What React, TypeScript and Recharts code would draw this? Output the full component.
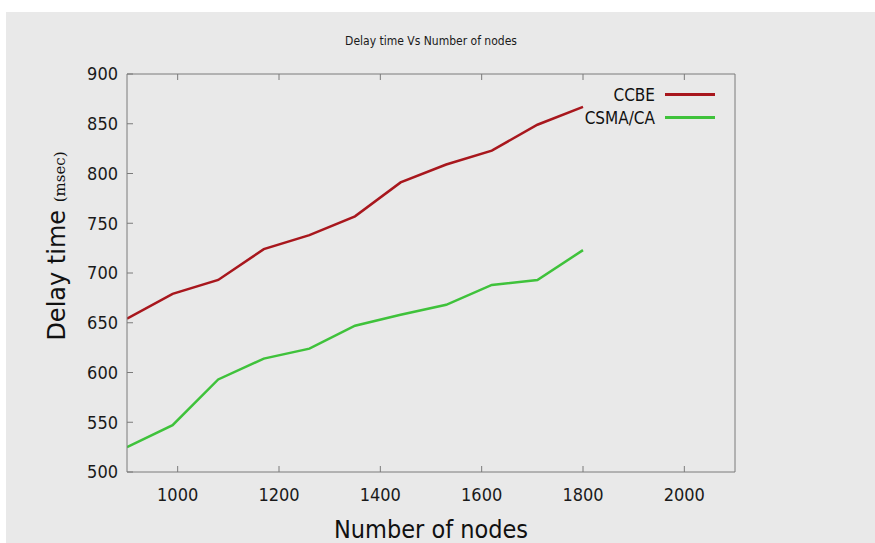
import React from 'react';
import { LineChart, Line, XAxis, YAxis, Legend } from 'recharts';

const nodes = [900, 990, 1080, 1170, 1260, 1350, 1440, 1530, 1620, 1710, 1800];
const ccbe = [654, 679, 693, 724, 738, 757, 791, 809, 823, 849, 867];
const csma = [525, 547, 593, 614, 624, 647, 658, 668, 688, 693, 723];

const xTicks = [1000, 1200, 1400, 1600, 1800, 2000];
const yTicks = [500, 550, 600, 650, 700, 750, 800, 850, 900];

const rows = nodes.map((n, i) => ({ nodes: n, CCBE: ccbe[i], 'CSMA/CA': csma[i] }));

const FONT = "'DejaVu Sans Condensed', 'DejaVu Sans', sans-serif";
const AXIS = '#7b7b7b';
const RED = '#a8171d';
const GREEN = '#3fc23b';

const tickStyle = { fill: '#1a1a1a', fontSize: 18, fontFamily: FONT, fontStretch: 'condensed' } as any;

const TitleLabel = (props: any) => {
  const vb = props.viewBox || {};
  return (
    <text x={vb.x + vb.width / 2} y={45} textAnchor="middle" fontSize={12} fontFamily={FONT} fill="#1a1a1a" style={{ fontStretch: 'condensed' }}>
      Delay time Vs Number of nodes
    </text>
  );
};

const XLabel = (props: any) => {
  const vb = props.viewBox || {};
  return (
    <text x={vb.x + vb.width / 2} y={vb.y + 66} textAnchor="middle" fontSize={25} fontFamily={FONT} fill="#111" style={{ fontStretch: 'condensed' }}>
      Number of nodes
    </text>
  );
};

const YLabel = () => {
  const cx = 65;
  const cy = 246;
  return (
    <text x={cx} y={cy} transform={`rotate(-90 ${cx} ${cy})`} textAnchor="middle" fill="#111">
      <tspan fontSize={24} fontFamily="'DejaVu Sans', sans-serif">Delay time </tspan>
      <tspan fontSize={15} fontFamily="'DejaVu Serif', 'Liberation Serif', serif">(msec)</tspan>
    </text>
  );
};

const renderLegend = (props: any) => {
  const items = props.payload || [];
  return (
    <div style={{ fontFamily: FONT, fontStretch: 'condensed', fontSize: 17, color: '#111' }}>
      {items.map((it: any) => (
        <div key={it.value} style={{ display: 'flex', justifyContent: 'flex-end', alignItems: 'center', height: 23 }}>
          <span>{it.value}</span>
          <span style={{ display: 'inline-block', width: 50, height: 3, background: it.color, marginLeft: 10, marginRight: 5 }} />
        </div>
      ))}
    </div>
  );
};

export default function App() {
  return (
    <div style={{ position: 'absolute', left: 0, top: 0, width: 875, height: 543, background: '#fff', overflow: 'hidden' }}>
      <style>{'html, body { margin: 0; overflow: hidden; }'}</style>
      <div style={{ position: 'absolute', left: 6, top: 12, width: 869, height: 531, background: '#e9e9e9' }} />
      <div style={{ position: 'absolute', left: 0, top: 0 }}>
        <LineChart width={875} height={543} data={rows} margin={{ top: 64, right: 130, bottom: 31, left: 67 }}>
          <XAxis
            dataKey="nodes"
            type="number"
            domain={[900, 2100]}
            ticks={xTicks}
            allowDataOverflow
            height={40}
            stroke={AXIS}
            tickSize={-6}
            tickMargin={22}
            tick={tickStyle}
            label={<XLabel />}
          />
          <XAxis
            xAxisId="top"
            dataKey="nodes"
            type="number"
            orientation="top"
            domain={[900, 2100]}
            ticks={xTicks}
            allowDataOverflow
            height={10}
            stroke={AXIS}
            tickSize={-6}
            tickFormatter={() => ''}
            label={<TitleLabel />}
          />
          <YAxis
            type="number"
            domain={[500, 900]}
            ticks={yTicks}
            allowDataOverflow
            width={60}
            stroke={AXIS}
            tickSize={-6}
            tickMargin={15}
            tick={tickStyle}
            label={<YLabel />}
          />
          <YAxis
            yAxisId="right"
            type="number"
            orientation="right"
            domain={[500, 900]}
            ticks={yTicks}
            width={10}
            stroke={AXIS}
            tickSize={-6}
            tickFormatter={() => ''}
          />
          <Legend
            content={renderLegend}
            layout="horizontal"
            verticalAlign="middle"
            align="center"
            wrapperStyle={{ position: 'absolute', left: 560, top: 83, width: 160 }}
          />
          <Line dataKey="CCBE" stroke={RED} strokeWidth={2.5} dot={false} isAnimationActive={false} />
          <Line dataKey="CSMA/CA" stroke={GREEN} strokeWidth={2.5} dot={false} isAnimationActive={false} />
        </LineChart>
      </div>
    </div>
  );
}
